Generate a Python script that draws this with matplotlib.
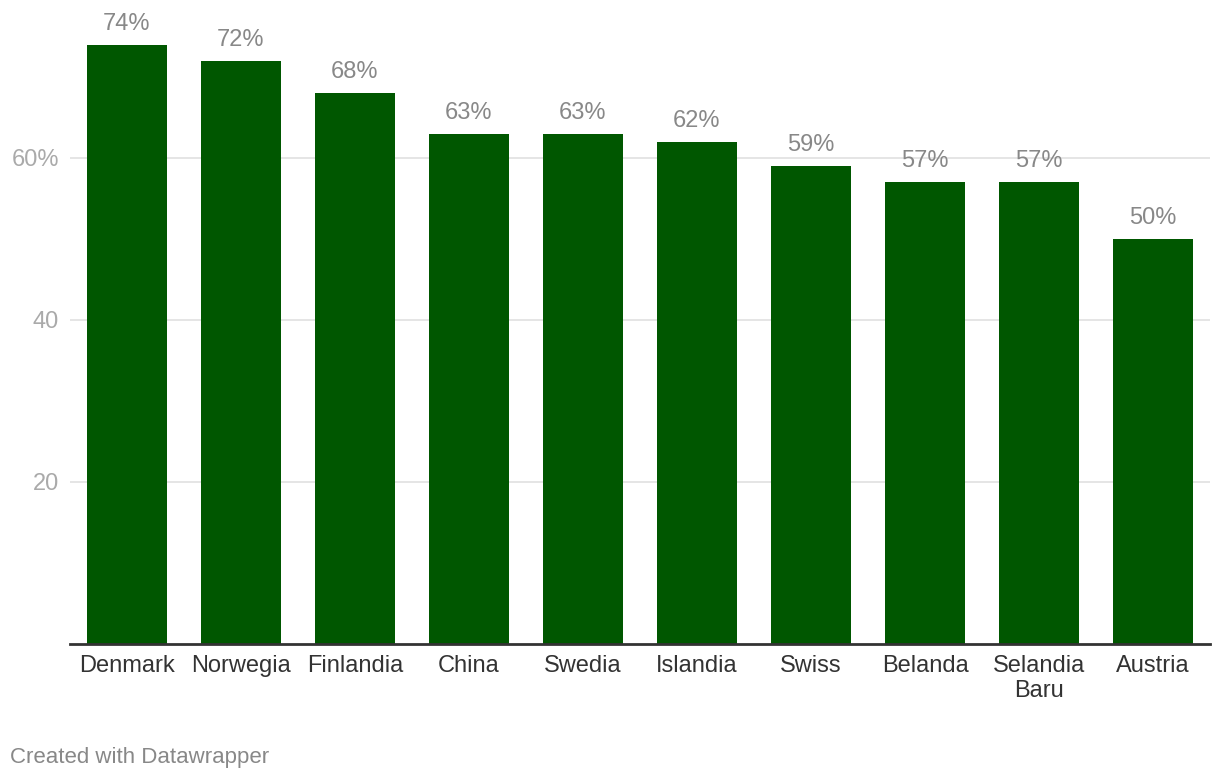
import matplotlib
matplotlib.use("Agg")
import matplotlib.pyplot as plt

plt.rcParams['font.family'] = ['Liberation Sans', 'DejaVu Sans']

# data
countries = ["Denmark", "Norwegia", "Finlandia", "China", "Swedia",
             "Islandia", "Swiss", "Belanda", "Selandia\nBaru", "Austria"]
values = [74, 72, 68, 63, 63, 62, 59, 57, 57, 50]
yticks = [20, 40, 60]
ytick_labels = ["20", "40", "60%"]

bar_color = "#005700"

fig = plt.figure(figsize=(12.2, 7.8), dpi=100)
# axes placed in pixel terms: left 70, right 1210, baseline 643.5, top = 74 at ~44.5
ax = fig.add_axes([70 / 1220, (780 - 643.5) / 780, 1140 / 1220, (643.5 - 44.5) / 780])

x = range(len(countries))
ax.bar(x, values, width=0.70, color=bar_color, zorder=2)

ax.set_xlim(-0.5, len(countries) - 0.5)
ax.set_ylim(0, 74)

# value labels
for i, v in enumerate(values):
    ax.annotate(f"{v}%", (i, v), xytext=(0, 10), textcoords="offset pixels",
                ha="center", va="bottom", fontsize=17, color="#888888",
                annotation_clip=False)

# grid & axes styling
ax.set_yticks(yticks)
ax.set_yticklabels(ytick_labels)
ax.yaxis.grid(True, color="#e3e3e3", linewidth=1.3, zorder=0)
ax.tick_params(axis="y", length=0, pad=8, labelsize=17, labelcolor="#aaaaaa")
ax.tick_params(axis="x", length=0, pad=8.5, labelsize=17, labelcolor="#333333")
ax.set_xticks(list(x))
ax.set_xticklabels(countries, linespacing=1.15)

for s in ["top", "right", "left"]:
    ax.spines[s].set_visible(False)
ax.spines["bottom"].set_color("#333333")
ax.spines["bottom"].set_linewidth(2)
ax.spines["bottom"].set_zorder(3)

fig.text(10 / 1220, 1 - 757 / 780, "Created with Datawrapper", fontsize=16,
         color="#888888", ha="left", va="center")

fig.savefig("out.png", dpi=100)
